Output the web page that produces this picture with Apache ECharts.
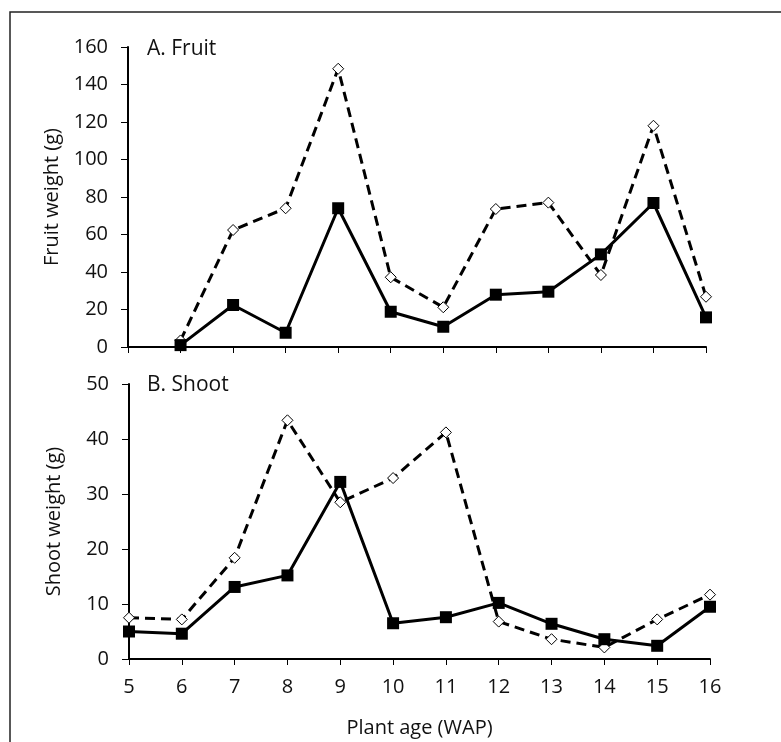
<!DOCTYPE html>
<html>
<head>
<meta charset="utf-8">
<script src="https://cdn.jsdelivr.net/npm/echarts@6/dist/echarts.min.js"></script>
<style>html,body{margin:0;padding:0;background:#fff}#c{width:781px;height:742px}</style>
</head>
<body>
<div id="c"></div>
<script>
const weeks = [5, 6, 7, 8, 9, 10, 11, 12, 13, 14, 15, 16];
const fruitDashed = [null, 3.5, 62.4, 74, 148.4, 37.2, 21.2, 73.6, 77, 38.4, 118, 26.8];
const fruitSolid  = [null, 1, 22.4, 7.6, 74, 18.8, 10.8, 27.9, 29.5, 49.4, 76.8, 15.8];
const shootDashed = [7.5, 7.2, 18.4, 43.4, 28.5, 32.9, 41.2, 6.8, 3.6, 2.1, 7.2, 11.7];
const shootSolid  = [5.0, 4.6, 13.1, 15.2, 32.2, 6.5, 7.6, 10.2, 6.4, 3.6, 2.4, 9.5];
const panelTitles = ['A. Fruit', 'B. Shoot'];
const yNames = ['Fruit weight (g)', 'Shoot weight (g)'];
const xName = 'Plant age (WAP)';

const FONT = 'Open Sans';
const FS = 20;
const pairs = (ys) => weeks.map((w, i) => [w, ys[i]]);

function xAxis(gridIndex, showLabels) {
  return {
    type: 'value', gridIndex, min: 5, max: 16, interval: 1,
    name: showLabels ? xName : '', nameLocation: 'middle', nameGap: 59,
    nameTextStyle: { fontFamily: FONT, fontSize: FS, color: '#111' },
    axisLine: { show: true, onZero: false, lineStyle: { color: '#000', width: 2 } },
    axisTick: { show: true, length: 6, lineStyle: { color: '#000', width: 1 } },
    axisLabel: { show: showLabels, margin: 18, fontFamily: FONT, fontSize: FS, color: '#111' },
    splitLine: { show: false }
  };
}
function yAxis(gridIndex, max, interval, name) {
  return {
    type: 'value', gridIndex, min: 0, max, interval,
    name, nameLocation: 'middle', nameGap: 65,
    nameTextStyle: { fontFamily: FONT, fontSize: FS, color: '#111' },
    axisLine: { show: true, lineStyle: { color: '#000', width: 2 } },
    axisTick: { show: true, length: 7, lineStyle: { color: '#000', width: 1 } },
    axisLabel: { margin: 20, fontFamily: FONT, fontSize: FS, color: '#111' },
    splitLine: { show: false }
  };
}
function dashedSeries(idx, ys) {
  return {
    type: 'line', xAxisIndex: idx, yAxisIndex: idx, data: pairs(ys),
    symbol: 'diamond', symbolSize: 11, connectNulls: false,
    lineStyle: { color: '#000', width: 3, type: [10, 6] },
    itemStyle: { color: '#fff', borderColor: '#000', borderWidth: 1 },
    z: 2, animation: false
  };
}
function solidSeries(idx, ys) {
  return {
    type: 'line', xAxisIndex: idx, yAxisIndex: idx, data: pairs(ys),
    symbol: 'rect', symbolSize: 12, connectNulls: false,
    lineStyle: { color: '#000', width: 3 },
    itemStyle: { color: '#000', borderColor: '#000', borderWidth: 0 },
    z: 3, animation: false
  };
}

const chart = echarts.init(document.getElementById('c'));
chart.setOption({
  animation: false,
  backgroundColor: '#fff',
  grid: [
    { left: 128, top: 47, width: 578, height: 300 },
    { left: 129, top: 384, width: 581, height: 275 }
  ],
  xAxis: [xAxis(0, false), xAxis(1, true)],
  yAxis: [yAxis(0, 160, 20, yNames[0]), yAxis(1, 50, 10, yNames[1])],
  series: [
    dashedSeries(0, fruitDashed), solidSeries(0, fruitSolid),
    dashedSeries(1, shootDashed), solidSeries(1, shootSolid)
  ],
  graphic: [
    { type: 'rect', shape: { x: 10, y: 12, width: 900, height: 900 },
      style: { fill: 'none', stroke: '#222', lineWidth: 1.5 }, silent: true },
    { type: 'text', left: 147, top: 39, style: { text: panelTitles[0], font: '21px "Open Sans"', fill: '#111' } },
    { type: 'text', left: 147, top: 375, style: { text: panelTitles[1], font: '21px "Open Sans"', fill: '#111' } }
  ]
});
</script>
</body>
</html>
